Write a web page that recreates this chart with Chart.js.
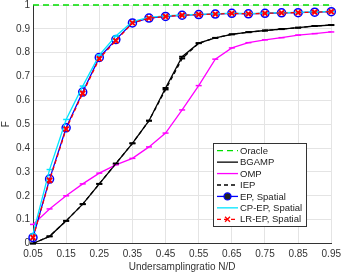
<!DOCTYPE html>
<html>
<head>
<meta charset="utf-8">
<script src="https://cdn.jsdelivr.net/npm/chart.js@4.4.1/dist/chart.umd.min.js"></script>
<style>
  html, body { margin: 0; padding: 0; background: #fff; overflow: hidden; }
  #wrap { width: 346px; height: 273px; overflow: hidden; }
  #c { display: block; margin-top: -4px; }
</style>
</head>
<body>
<div id="wrap"><canvas id="c" width="346" height="277"></canvas></div>
<script>
// 데이터 ####################################################
const ratio = [0.05, 0.1, 0.15, 0.2, 0.25, 0.3, 0.35, 0.4, 0.45, 0.5, 0.55, 0.6, 0.65, 0.7, 0.75, 0.8, 0.85, 0.9, 0.95];
const xTicks = [0.05, 0.15, 0.25, 0.35, 0.45, 0.55, 0.65, 0.75, 0.85, 0.95];
const yTicks = [0, 0.1, 0.2, 0.3, 0.4, 0.5, 0.6, 0.7, 0.8, 0.9, 1];

const oracle = [1, 1, 1, 1, 1, 1, 1, 1, 1, 1, 1, 1, 1, 1, 1, 1, 1, 1, 1];
const bgamp = [0.0, 0.03, 0.095, 0.165, 0.25, 0.335, 0.42, 0.515, 0.652, 0.783, 0.84, 0.862, 0.877, 0.886, 0.893, 0.899, 0.905, 0.912, 0.916];
const omp = [0.08, 0.145, 0.2, 0.25, 0.295, 0.33, 0.357, 0.405, 0.463, 0.56, 0.662, 0.773, 0.82, 0.842, 0.854, 0.863, 0.874, 0.88, 0.887];
const iep = [0.0, 0.03, 0.095, 0.165, 0.25, 0.335, 0.42, 0.515, 0.645, 0.775, 0.84, 0.862, 0.877, 0.886, 0.893, 0.899, 0.905, 0.912, 0.916];
const epSpatial = [0.025, 0.27, 0.485, 0.635, 0.78, 0.855, 0.925, 0.945, 0.952, 0.957, 0.96, 0.962, 0.965, 0.963, 0.965, 0.967, 0.968, 0.97, 0.972];
const cpepSpatial = [0.04, 0.31, 0.52, 0.66, 0.79, 0.87, 0.93, 0.948, 0.954, 0.958, 0.961, 0.963, 0.966, 0.964, 0.966, 0.968, 0.969, 0.971, 0.973];
const lrepSpatial = [0.025, 0.265, 0.48, 0.63, 0.775, 0.85, 0.925, 0.945, 0.952, 0.957, 0.96, 0.962, 0.965, 0.963, 0.965, 0.967, 0.968, 0.97, 0.972];

function pts(arr) {
  return arr.map((v, i) => ({ x: ratio[i], y: v }));
}

// 범례 (그래프 안쪽 오른쪽 아래) - 캔버스가 4px 위로 올라가 있어서 +4
const boxLegend = {
  id: "boxLegend",
  afterDraw(chart) {
    const ctx = chart.ctx;
    const left = 213, top = 147, w = 93, h = 83;
    ctx.save();
    ctx.fillStyle = "#fff";
    ctx.fillRect(left, top, w, h);
    ctx.strokeStyle = "#333";
    ctx.lineWidth = 1;
    ctx.strokeRect(left + 0.5, top + 0.5, w, h);
    ctx.font = "9.5px 'Liberation Sans', Arial, sans-serif";
    ctx.textBaseline = "middle";
    chart.data.datasets.forEach((ds, i) => {
      const y = top + 7.7 + i * 11.43;
      ctx.strokeStyle = ds.borderColor;
      ctx.lineWidth = ds.borderWidth;
      ctx.setLineDash(ds.borderDash || []);
      ctx.beginPath();
      ctx.moveTo(217, y);
      ctx.lineTo(238, y);
      ctx.stroke();
      ctx.setLineDash([]);
      if (ds.legendMarker) {
        Chart.helpers.drawPoint(ctx, {
          pointStyle: ds.pointStyle,
          radius: 3.5,
          borderWidth: ds.pointBorderWidth,
        }, 227.5, y);
      }
      ctx.fillStyle = "#222";
      ctx.fillText(ds.label, 240, y + 0.5);
    });
    ctx.restore();
  },
};

function makeChart() {
  const ctx = document.getElementById("c").getContext("2d");

  const datasets = [
    {
      label: "Oracle",
      data: pts(oracle),
      borderColor: "#00e000",
      borderWidth: 1.3,
      borderDash: [6, 4],
      pointRadius: 0,
    },
    {
      label: "BGAMP",
      data: pts(bgamp),
      borderColor: "#000",
      borderWidth: 1.3,
      pointStyle: "line",
      pointRadius: 3,
      pointBorderWidth: 2,
      pointBorderColor: "#000",
    },
    {
      label: "OMP",
      data: pts(omp),
      borderColor: "#ff00ff",
      borderWidth: 1.3,
      pointStyle: "line",
      pointRadius: 3,
      pointBorderWidth: 1.5,
      pointBorderColor: "#ff00ff",
    },
    {
      label: "IEP",
      data: pts(iep),
      borderColor: "#000",
      borderWidth: 1.3,
      borderDash: [4, 3],
      pointStyle: "line",
      pointRadius: 3,
      pointBorderWidth: 1.5,
      pointBorderColor: "#000",
    },
    {
      label: "EP, Spatial",
      data: pts(epSpatial),
      borderColor: "#0000ff",
      borderWidth: 1.3,
      pointStyle: "circle",
      pointRadius: 4,
      pointBorderWidth: 1.5,
      pointBorderColor: "#0000ff",
      pointBackgroundColor: "rgba(0,0,0,0)",
      legendMarker: true,
    },
    {
      label: "CP-EP, Spatial",
      data: pts(cpepSpatial),
      borderColor: "#00e5ff",
      borderWidth: 1.3,
      pointStyle: "line",
      pointRadius: 3,
      pointBorderWidth: 1.5,
      pointBorderColor: "#00e5ff",
    },
    {
      label: "LR-EP, Spatial",
      data: pts(lrepSpatial),
      borderColor: "#ff0000",
      borderWidth: 1.3,
      borderDash: [4, 3],
      pointStyle: "crossRot",
      pointRadius: 3.5,
      pointBorderWidth: 2,
      pointBorderColor: "#ff0000",
      legendMarker: true,
    },
  ];
  // 뒤에 있는 데이터셋이 위로 그려지도록
  datasets.forEach((ds, i) => {
    ds.order = datasets.length - i;
    ds.clip = false;
  });

  const tickFont = { family: "'Liberation Sans', Arial, sans-serif", size: 10 };

  const options = {
    responsive: false,
    animation: false,
    layout: { padding: { top: 0, right: 11, left: 0, bottom: 0 } },
    scales: {
      x: {
        type: "linear",
        min: 0.05,
        max: 0.95,
        afterBuildTicks(scale) {
          scale.ticks = xTicks.map((v) => ({ value: v }));
        },
        afterFit(scale) {
          scale.height = 29.5;
        },
        ticks: {
          font: tickFont,
          color: "#333",
          padding: 5,
          maxRotation: 0,
          autoSkip: false,
          callback: (v) => String(Math.round(v * 100) / 100),
        },
        grid: { color: "#e4e4e4", lineWidth: 1, drawTicks: false },
        border: { color: "#333", width: 1 },
        title: {
          display: true,
          text: "Undersamplingratio N/D",
          font: tickFont,
          color: "#333",
          padding: { top: 1, bottom: 0 },
        },
      },
      y: {
        min: 0,
        max: 1,
        afterBuildTicks(scale) {
          scale.ticks = yTicks.map((v) => ({ value: v }));
        },
        afterFit(scale) {
          scale.width = 33;
        },
        ticks: {
          font: tickFont,
          color: "#333",
          padding: 3,
          autoSkip: false,
          callback: (v) => String(Math.round(v * 10) / 10),
        },
        grid: { color: "#e4e4e4", lineWidth: 1, drawTicks: false },
        border: { color: "#333", width: 1 },
        title: {
          display: true,
          text: "F",
          font: tickFont,
          color: "#333",
          padding: { top: 0, bottom: 2 },
        },
      },
    },
    plugins: {
      legend: { display: false },
      tooltip: { enabled: false },
    },
  };

  new Chart(ctx, {
    type: "line",
    data: { datasets: datasets },
    options: options,
    plugins: [boxLegend],
  });
}
makeChart();
</script>
</body>
</html>
